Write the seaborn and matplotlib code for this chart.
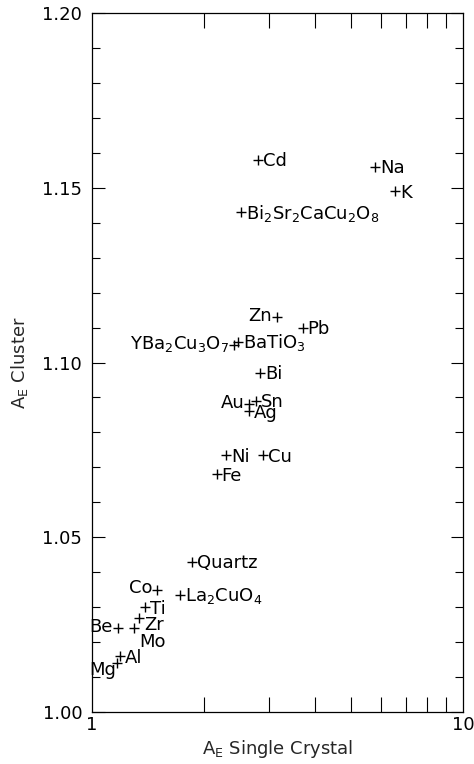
import matplotlib
matplotlib.use("Agg")
import matplotlib.pyplot as plt
import seaborn as sns
import pandas as pd
from matplotlib.ticker import MultipleLocator, FixedLocator, NullFormatter

sns.set_style("ticks")
plt.rcParams['font.family'] = ['DejaVu Sans']
plt.rcParams['mathtext.fontset'] = 'dejavusans'

# values
names = ['Cd', 'Na', 'K', r'Bi$_2$Sr$_2$CaCu$_2$O$_8$', 'Zn', 'Pb',
         r'YBa$_2$Cu$_3$O$_7$', r'BaTiO$_3$', 'Bi', 'Au', 'Sn', 'Ag',
         'Ni', 'Cu', 'Fe', 'Quartz', 'Co', r'La$_2$CuO$_4$', 'Ti', 'Zr',
         'Mo', 'Be', 'Al', 'Mg']
ae_crystal = [2.80, 5.79, 6.56, 2.52, 3.15, 3.70,
              2.41, 2.47, 2.84, 2.65, 2.77, 2.65,
              2.30, 2.89, 2.17, 1.86, 1.50, 1.73, 1.39, 1.34,
              1.30, 1.175, 1.19, 1.168]
ae_cluster = [1.158, 1.156, 1.149, 1.143, 1.113, 1.110,
              1.105, 1.106, 1.097, 1.088, 1.089, 1.086,
              1.0735, 1.0735, 1.068, 1.043, 1.035, 1.0335, 1.030, 1.027,
              1.024, 1.024, 1.016, 1.014]

# label side: r = right of the cross, l = left, special cases handled below
side = ['r', 'r', 'r', 'r', 'l', 'r',
        'l', 'r', 'r', 'l', 'r', 'r',
        'r', 'r', 'r', 'r', 'l', 'r', 'r', 'zr',
        'mo', 'l', 'r', 'mg']

df = pd.DataFrame({'name': names, 'x': ae_crystal, 'y': ae_cluster, 'side': side})

fig = plt.figure(figsize=(4.74, 7.64), dpi=100)
ax = fig.add_axes([0.194, 0.068, 0.783, 0.915])

sns.scatterplot(data=df, x='x', y='y', marker='+', color='black', s=60,
                linewidth=1.0, ax=ax, legend=False)

fs = 13
for _, r in df.iterrows():
    if r['side'] == 'r':
        off, ha, va = (3.5, -1), 'left', 'center'
    elif r['side'] == 'l':
        off, ha, va = (-3.5, 1), 'right', 'center'
    elif r['side'] == 'zr':
        off, ha, va = (3.5, -5), 'left', 'center'
    elif r['side'] == 'mo':
        off, ha, va = (13, -10), 'center', 'center'
    else:  # mg
        off, ha, va = (-0.5, -5), 'right', 'center'
    ax.annotate(r['name'], (r['x'], r['y']), xytext=off, textcoords='offset points',
                ha=ha, va=va, fontsize=fs, color='black')

ax.set_xscale('log')
ax.set_xlim(1, 10)
ax.set_ylim(1.0, 1.2)
ax.xaxis.set_major_locator(FixedLocator([1, 10]))
ax.set_xticklabels(['1', '10'])
ax.xaxis.set_minor_locator(FixedLocator([2, 3, 4, 5, 6, 7, 8, 9]))
ax.xaxis.set_minor_formatter(NullFormatter())
ax.yaxis.set_major_locator(MultipleLocator(0.05))
ax.yaxis.set_minor_locator(MultipleLocator(0.01))
ax.set_yticks([1.00, 1.05, 1.10, 1.15, 1.20])
ax.set_yticklabels(['1.00', '1.05', '1.10', '1.15', '1.20'])

ax.tick_params(which='both', direction='in', top=True, right=True,
               width=0.8, colors='black', labelsize=13)
ax.tick_params(axis='y', which='major', length=9, pad=7)
ax.tick_params(axis='y', which='minor', length=6)
ax.tick_params(axis='x', which='minor', length=11)
ax.tick_params(axis='x', which='major', length=0, pad=3)

for sp in ax.spines.values():
    sp.set_linewidth(0.9)
    sp.set_color('black')

ax.set_xlabel(r'A$_\mathrm{E}$ Single Crystal', fontsize=13, labelpad=3)
ax.set_ylabel(r'A$_\mathrm{E}$ Cluster', fontsize=13, labelpad=9)

fig.savefig('out.png', dpi=100)
